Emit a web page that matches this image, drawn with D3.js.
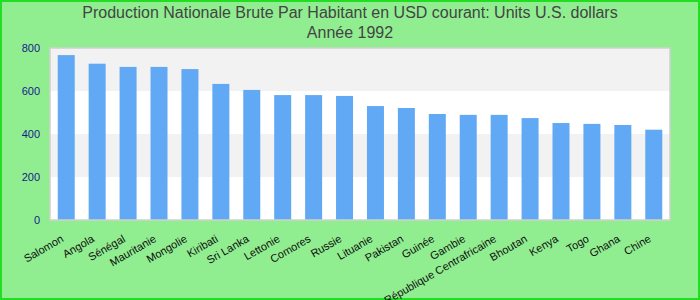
<!DOCTYPE html>
<html>
<head>
<meta charset="utf-8">
<script src="https://cdn.jsdelivr.net/npm/d3@7"></script>
<style>
  body { margin: 0; }
  svg { display: block; }
</style>
</head>
<body>
<svg id="chart" width="700" height="300"></svg>
<script>
// --- data
const countries = ['Salomon', 'Angola', 'Sénégal', 'Mauritanie', 'Mongolie', 'Kiribati', 'Sri Lanka',
    'Lettonie', 'Comores', 'Russie', 'Lituanie', 'Pakistan', 'Guinée', 'Gambie',
    'République Centrafricaine', 'Bhoutan', 'Kenya', 'Togo', 'Ghana', 'Chine'];
const gnpPerCapita = [767, 727, 712, 712, 702, 633, 605, 581, 581, 577, 530, 521, 493, 489, 489, 474, 451, 447, 442, 420];
const yTicks = [0, 200, 400, 600, 800];
const titleLines = ['Production Nationale Brute Par Habitant en USD courant: Units U.S. dollars', 'Année 1992'];

const margin = { top: 48, right: 30, bottom: 80, left: 50 };
const width = 700;
const height = 300;

function drawChart() {
    const svg = d3.select('#chart');

    // background + outer border
    svg.append('rect')
        .attr('x', 1).attr('y', 1)
        .attr('width', width - 2).attr('height', height - 2)
        .attr('fill', '#90ee90')
        .attr('stroke', '#22dd22')
        .attr('stroke-width', 2);

    const x = d3.scaleBand()
        .domain(countries)
        .range([margin.left, width - margin.right])
        .paddingInner(0.45)
        .paddingOuter(0.25);

    const y = d3.scaleLinear()
        .domain([0, 800])
        .range([height - margin.bottom, margin.top]);

    // alternating bands
    const bands = d3.pairs(yTicks);
    svg.append('g')
        .selectAll('rect')
        .data(bands)
        .enter()
        .append('rect')
        .attr('x', margin.left)
        .attr('width', width - margin.left - margin.right)
        .attr('y', d => y(d[1]))
        .attr('height', d => y(d[0]) - y(d[1]))
        .attr('fill', (d, i) => i % 2 ? '#f2f2f2' : '#ffffff');

    // bars
    svg.append('g')
        .selectAll('rect')
        .data(gnpPerCapita)
        .enter()
        .append('rect')
        .attr('x', (d, i) => x(countries[i]))
        .attr('width', x.bandwidth())
        .attr('y', d => y(d))
        .attr('height', d => y(0) - y(d))
        .attr('fill', '#62a9f5');

    // plot frame
    svg.append('rect')
        .attr('x', margin.left)
        .attr('y', margin.top)
        .attr('width', width - margin.left - margin.right)
        .attr('height', height - margin.top - margin.bottom)
        .attr('fill', 'none')
        .attr('stroke', '#d0d0d0')
        .attr('stroke-width', 1.5);

    // y axis
    const yAxis = svg.append('g')
        .attr('transform', `translate(${margin.left - 10},0)`)
        .call(d3.axisLeft(y).tickValues(yTicks).tickSize(0).tickPadding(0));
    yAxis.select('.domain').remove();
    yAxis.selectAll('text')
        .attr('fill', '#1a1a8c')
        .style('font-family', 'Liberation Sans, Arial, sans-serif')
        .style('font-size', '11px');

    // x labels
    svg.append('g')
        .selectAll('text')
        .data(countries)
        .enter()
        .append('text')
        .attr('transform', d => `translate(${x(d) + x.bandwidth() / 2 - 2},${height - margin.bottom + 21}) rotate(-30)`)
        .attr('text-anchor', 'end')
        .attr('fill', '#111')
        .style('font-family', 'Liberation Sans, Arial, sans-serif')
        .style('font-size', '11px')
        .text(d => d);

    // title
    svg.append('g')
        .selectAll('text')
        .data(titleLines)
        .enter()
        .append('text')
        .attr('x', 350)
        .attr('y', (d, i) => 18 + i * 20)
        .attr('text-anchor', 'middle')
        .attr('fill', '#444')
        .style('font-family', 'Liberation Sans, Arial, sans-serif')
        .style('font-size', '16px')
        .text(d => d);
}

drawChart();
</script>
</body>
</html>
